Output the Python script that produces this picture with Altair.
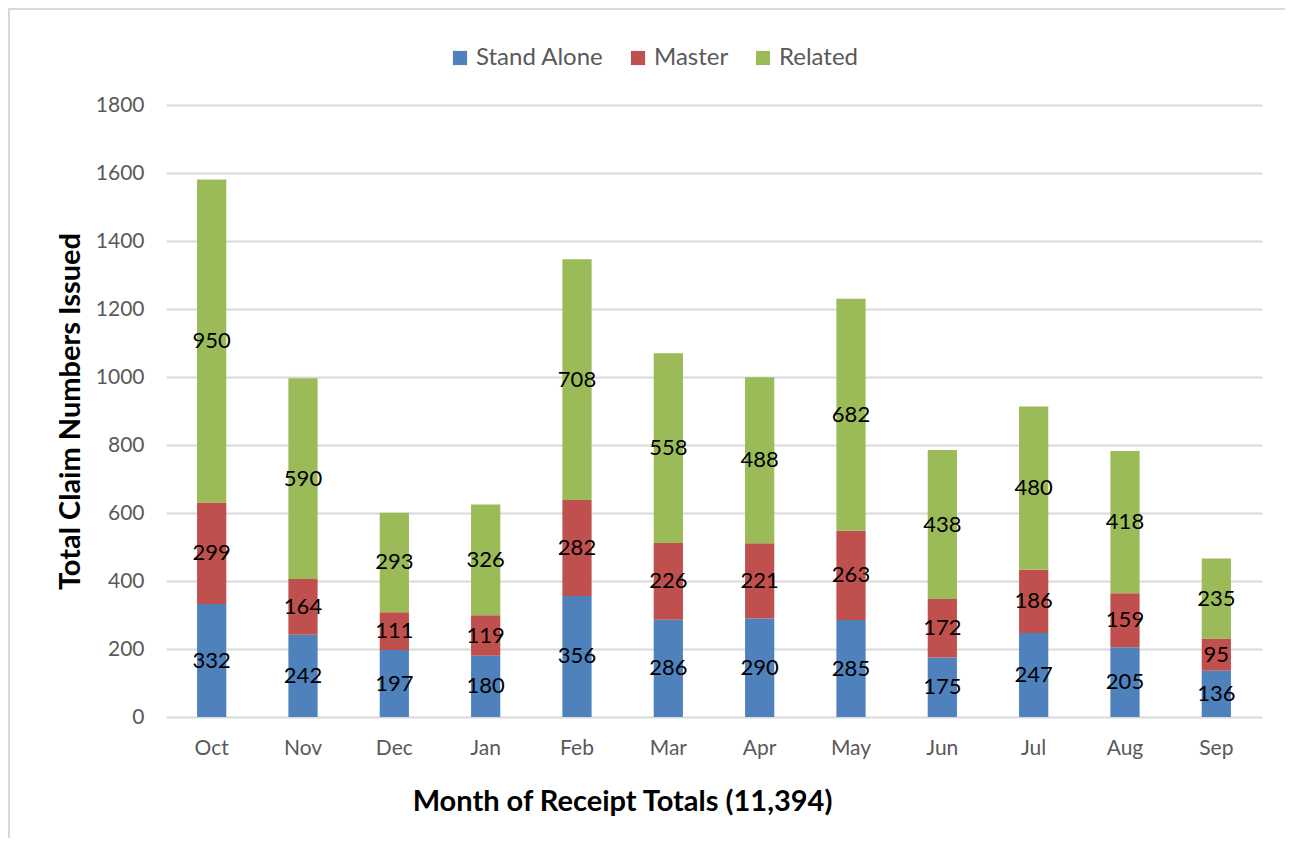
import altair as alt
import pandas as pd

months = ["Oct", "Nov", "Dec", "Jan", "Feb", "Mar", "Apr", "May", "Jun", "Jul", "Aug", "Sep"]
stand_alone = [332, 242, 197, 180, 356, 286, 290, 285, 175, 247, 205, 136]
master = [299, 164, 111, 119, 282, 226, 221, 263, 172, 186, 159, 95]
related = [950, 590, 293, 326, 708, 558, 488, 682, 438, 480, 418, 235]
series = ["Stand Alone", "Master", "Related"]
colors = ["#4f81bd", "#c0504d", "#9bbb59"]
y_ticks = [0, 200, 400, 600, 800, 1000, 1200, 1400, 1600, 1800]

rows = []
for i, m in enumerate(months):
    for k, (s, vals) in enumerate(zip(series, [stand_alone, master, related])):
        rows.append({"Month": m, "Series": s, "Value": vals[i], "order": k})
df = pd.DataFrame(rows)

FONT = "Lato"

base = alt.Chart(df).transform_stack(
    stack="Value", groupby=["Month"], as_=["y0", "y1"],
    sort=[alt.SortField("order", order="ascending")]
).transform_calculate(mid="(datum.y0 + datum.y1) / 2")

x_enc = alt.X(
    "Month:N", sort=months, scale=alt.Scale(paddingInner=0.68, paddingOuter=0.34),
    axis=alt.Axis(
        title="Month of Receipt Totals (11,394)", labelAngle=0, domain=False, ticks=False,
        labelFont=FONT, labelFontSize=21, labelColor="#595959", labelPadding=20,
        titleFont=FONT, titleFontSize=29, titleFontWeight="bold", titleColor="#000000",
        titleX=456, titleY=84, titleAlign="center", titleBaseline="middle", titleAnchor="start",
    ),
)

bars = base.mark_bar().encode(
    x=x_enc,
    y=alt.Y(
        "y0:Q", scale=alt.Scale(domain=[0, 1800], nice=False),
        axis=alt.Axis(
            title="Total Claim Numbers Issued", values=y_ticks, format="d", domain=False, ticks=False,
            grid=True, gridColor="#d9d9d9", gridWidth=2,
            labelFont=FONT, labelFontSize=21, labelColor="#595959", labelPadding=22,
            titleFont=FONT, titleFontSize=29, titleFontWeight="bold", titleColor="#000000",
            titleX=-96, titleY=306, titleAngle=-90, titleAlign="center", titleBaseline="middle",
            titleAnchor="start",
        ),
    ),
    y2="y1:Q",
    color=alt.Color(
        "Series:N", scale=alt.Scale(domain=series, range=colors),
        legend=alt.Legend(
            title=None, orient="none", legendX=282, legendY=-59, direction="horizontal",
            symbolType="square", symbolSize=200, symbolStrokeWidth=0, symbolOpacity=1,
            labelFont=FONT, labelFontSize=24, labelColor="#595959", labelOffset=4,
            columnPadding=22,
        ),
    ),
)

labels = base.mark_text(font=FONT, fontSize=22, color="#000000", baseline="middle").encode(
    x=alt.X("Month:N", sort=months),
    y=alt.Y("mid:Q"),
    text=alt.Text("Value:Q"),
)

frame_left = alt.Chart(pd.DataFrame({"a": [0]})).mark_rule(color="#d9d9d9", strokeWidth=2).encode(
    x=alt.value(-157), y=alt.value(-97), y2=alt.value(733)
)
frame_top = alt.Chart(pd.DataFrame({"a": [0]})).mark_rule(color="#d9d9d9", strokeWidth=2).encode(
    x=alt.value(-158), x2=alt.value(1119), y=alt.value(-96)
)

chart = alt.layer(bars, labels, frame_left, frame_top).properties(
    width=1096, height=612,
    padding={"left": 158, "top": 97, "right": 23, "bottom": 121},
    autosize=alt.AutoSizeParams(type="none"),
    background="#ffffff",
).configure_view(stroke=None)

chart.save("out.html", embed_options={"renderer": "svg", "actions": False})
